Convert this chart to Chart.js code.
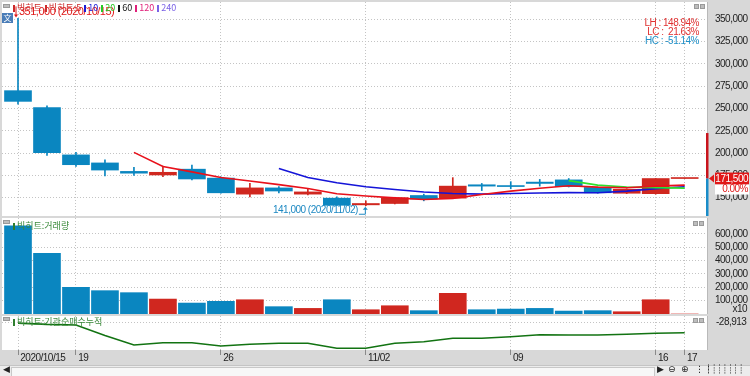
<!DOCTYPE html>
<html>
<head>
<meta charset="utf-8">
<script src="https://cdn.jsdelivr.net/npm/chart.js@4.4.1/dist/chart.umd.min.js"></script>
<style>
  body { margin: 0; width: 750px; height: 376px; background: #d8d8d8; overflow: hidden; position: relative; }
  .pane { position: absolute; left: 0; width: 750px; }
  #p1 { top: 2px; height: 214px; }
  #p2 { top: 218px; height: 96px; }
  #p3 { top: 316px; height: 49px; }
  .lbl { position: absolute; font-family: 'Noto Sans CJK KR', sans-serif; font-size: 9px; line-height: 10px; white-space: nowrap; }
  .lbl i { display: inline-block; width: 2px; height: 7px; margin: 0 2px 0 1px; vertical-align: -1px; }
  .btn { position: absolute; background: #bdbdbd; border: 1px solid #9a9a9a; box-sizing: border-box; }
  #han { position: absolute; left: 2px; top: 13px; width: 11px; height: 10px; background: #4a7db8; color: #fff; font: 8px/10px 'Noto Sans CJK SC', sans-serif; text-align: center; }
  #scroll { position: absolute; left: 0; top: 365px; width: 750px; height: 11px; background: #ececec; border-top: 1px solid #c4c4c4; box-sizing: border-box; }
  #track { position: absolute; left: 11px; top: 1px; width: 642px; height: 8px; background: #f7f7f7; border: 1px solid #c8c8c8; }
  .ic { position: absolute; top: -2px; font: 9px/11px 'DejaVu Sans', sans-serif; color: #222; }
</style>
</head>
<body>
<div class="pane" id="p1"><canvas id="c1"></canvas></div>
<div class="pane" id="p2"><canvas id="c2"></canvas></div>
<div class="pane" id="p3"><canvas id="c3"></canvas></div>

<div class="btn" style="left:3px;top:4px;width:7px;height:4px"></div>
<div class="btn" style="left:3px;top:220px;width:7px;height:4px"></div>
<div class="btn" style="left:3px;top:317px;width:7px;height:4px"></div>
<div class="btn" style="left:694px;top:4px;width:5px;height:5px"></div>
<div class="btn" style="left:700px;top:4px;width:5px;height:5px"></div>
<div class="btn" style="left:693px;top:221px;width:5px;height:5px"></div>
<div class="btn" style="left:699px;top:221px;width:5px;height:5px"></div>
<div class="btn" style="left:693px;top:318px;width:5px;height:5px"></div>
<div class="btn" style="left:699px;top:318px;width:5px;height:5px"></div>
<div id="han">文</div>
<div class="lbl" id="legend" style="left:12px;top:3px"></div>
<div class="lbl" style="left:12px;top:221px;color:#3b8a3b"><i style="background:#2e7d2e"></i>빅히트:거래량</div>
<div class="lbl" style="left:12px;top:317px;color:#3b8a3b"><i style="background:#2e7d2e"></i>빅히트:기관순매수누적</div>

<div id="scroll">
  <span class="ic" style="left:3px">&#9664;</span>
  <div id="track"></div>
  <span class="ic" style="left:657px">&#9654;</span>
  <span class="ic" style="left:668px">&#8854;</span>
  <span class="ic" style="left:681px">&#8853;</span>
  <span class="ic" style="left:695px">&#8942;&#8942;</span>
  <span class="ic" style="left:706px;color:#555">&#9482;&#9482;&#9482;&#9482;&#9482;&#9482;&#9482;</span>
</div>

<script>
const days = ['2020/10/15', '2020/10/16', '2020/10/19', '2020/10/20', '2020/10/21', '2020/10/22', '2020/10/23',
  '2020/10/26', '2020/10/27', '2020/10/28', '2020/10/29', '2020/10/30', '2020/11/02', '2020/11/03',
  '2020/11/04', '2020/11/05', '2020/11/06', '2020/11/09', '2020/11/10', '2020/11/11', '2020/11/12',
  '2020/11/13', '2020/11/16', '2020/11/17'];

const open  = [270000, 251000, 198000, 189000, 179500, 175500, 182000, 172000, 154000, 161000, 154000, 149500,
  142000, 143500, 152500, 149500, 164500, 163500, 167500, 170000, 161500, 155000, 154500, 171500];
const high  = [351000, 253000, 201000, 192500, 184000, 185500, 186500, 173500, 166000, 162500, 160500, 151000,
  146500, 150500, 154000, 172500, 166000, 168000, 170500, 171500, 162000, 160000, 171500, 171500];
const low   = [255000, 197500, 185000, 174500, 175000, 173500, 170000, 155000, 151000, 155500, 153000, 141500,
  141000, 143000, 146500, 149000, 158000, 160000, 163000, 162000, 155000, 154500, 154000, 171500];
const close = [258000, 200500, 187000, 181000, 177500, 178500, 171000, 155500, 161000, 157500, 156500, 141500,
  143500, 150000, 148500, 163000, 163000, 162500, 166000, 162500, 155500, 159500, 171500, 171500];

// moving averages
const ma5  = [null, null, null, null, 200800, 184900, 179000, 172700, 168700, 164700, 160300, 154400,
  152000, 149800, 148000, 149300, 153600, 157400, 160600, 163400, 161900, 161200, 163000, 164100];
const ma10 = [null, null, null, null, null, null, null, null, null, 182750, 172600, 166700,
  162350, 159250, 156350, 154800, 154000, 154700, 155200, 155700, 155600, 157400, 160200, 162350];
const ma20 = [null, null, null, null, null, null, null, null, null, null, null, null,
  null, null, null, null, null, null, null, 169200, 164100, 162000, 161300, 160800];

// volume (x10 shares)
const volume = [662000, 455000, 200000, 175000, 160000, 112000, 82000, 95000, 107000, 55000, 42000, 107000,
  32000, 62000, 25000, 155000, 32000, 37000, 42000, 22000, 25000, 17000, 107000, 0];

// institutional net buying, cumulative
const instCum = [-29700, -31000, -31600, -42000, -51600, -49300, -49300, -52600, -50800, -49900, -49900, -54900,
  -54900, -49900, -48300, -44900, -44900, -43300, -41300, -41600, -41600, -40900, -39900, -39300];

const xTickIdx = [0, 2, 7, 12, 17, 22, 23];
const xTickLabels = ['2020/10/15', '19', '26', '11/02', '09', '16', '17'];
const priceTicks = [150000, 175000, 200000, 225000, 250000, 275000, 300000, 325000, 350000];
const volumeTicks = [100000, 200000, 300000, 400000, 500000, 600000];
const instTicks = [-28913];
const upperLimit = 222500;

const legendNames = ['빅히트', '빅히트:5', '10', '20', '60', '120', '240'];
const legendColors = ['#cc2a2a', '#cc2a2a', '#1b1bd6', '#25c825', '#111111', '#e0207a', '#7a62e6'];

const RED = '#d0271f';
const BLUE = '#0a86c0';
const FONT = "'Liberation Sans', Arial, sans-serif";
const tickFont = { family: FONT, size: 10 };
const fmt = v => Number(v).toLocaleString('en-US');
const idx = days.map((d, i) => i);
const candleColor = idx.map(i => close[i] >= open[i] ? RED : BLUE);

document.getElementById('legend').innerHTML = legendNames
  .map((n, i) => `<i style="background:${legendColors[i]}"></i><span style="color:${legendColors[i]};margin-right:2px">${n}</span>`)
  .join('');

function xScale(showLabels) {
  return {
    type: 'linear', min: -0.552, max: 23.77, offset: false,
    afterBuildTicks: s => { s.ticks = xTickIdx.map(v => ({ value: v })); },
    afterFit: s => { s.height = showLabels ? 15 : 0; s.paddingLeft = 0; s.paddingRight = 0; },
    grid: { offset: false, color: '#c4c4c4', drawTicks: showLabels, tickLength: 5, tickColor: '#8a8a8a' },
    border: { display: false, dash: [1, 2] },
    ticks: {
      display: showLabels, align: 'start', padding: -3, color: '#222', font: tickFont,
      maxRotation: 0, autoSkip: false, callback: (v, i) => ' ' + xTickLabels[i]
    }
  };
}

function yScale(min, max, ticks, pad) {
  return {
    position: 'right', min: min, max: max,
    afterBuildTicks: s => { s.ticks = ticks.map(v => ({ value: v })); },
    afterFit: s => { s.width = 43; s.paddingTop = 0; s.paddingBottom = 0; },
    grid: { color: '#c4c4c4', drawTicks: false },
    border: { display: false, dash: [1, 2] },
    ticks: { crossAlign: 'near', padding: pad, color: '#222', font: tickFont, callback: v => fmt(v) }
  };
}

function baseOptions(y, showX) {
  return {
    responsive: true, maintainAspectRatio: false, animation: false, events: [],
    layout: { padding: { left: 2, right: 0, top: 0, bottom: 0 } },
    plugins: { legend: { display: false }, tooltip: { enabled: false } },
    scales: { x: xScale(showX), y: y }
  };
}

// the terminal font is narrow, tighten the canvas text a little
const narrow = {
  id: 'narrow',
  beforeLayout(chart) { chart.ctx.letterSpacing = '-0.5px'; },
  beforeDraw(chart) { chart.ctx.letterSpacing = '-0.5px'; }
};

const paneBg = {
  id: 'paneBg',
  beforeDraw(chart) {
    const { ctx, chartArea: a } = chart;
    ctx.save();
    ctx.fillStyle = '#ffffff';
    ctx.fillRect(a.left, a.top, a.right - a.left, a.bottom - a.top);
    ctx.fillStyle = '#b9b9b9';
    ctx.fillRect(a.right, a.top, 1, a.bottom - a.top);
    ctx.restore();
  }
};

const priceMarks = {
  id: 'priceMarks',
  afterDraw(chart) {
    const { ctx, chartArea: a } = chart;
    const x = chart.scales.x, y = chart.scales.y;
    const hi = Math.max(...high), hiI = high.indexOf(hi);
    const lo = Math.min(...low), loI = low.indexOf(lo);
    const last = close[close.length - 1], prev = close[close.length - 2];
    ctx.save();
    ctx.textBaseline = 'middle';

    // highest price marker
    let px = x.getPixelForValue(hiI), py = y.getPixelForValue(hi);
    ctx.strokeStyle = ctx.fillStyle = '#e01818';
    ctx.lineWidth = 1;
    ctx.beginPath(); ctx.moveTo(px - 2, py - 12); ctx.lineTo(px - 2, py - 3); ctx.stroke();
    ctx.beginPath(); ctx.moveTo(px - 4, py - 4); ctx.lineTo(px, py - 4); ctx.lineTo(px - 2, py - 1); ctx.fill();
    ctx.font = '11px ' + FONT;
    ctx.textAlign = 'left';
    ctx.fillText(fmt(hi) + ' (' + days[hiI] + ')', px + 1, py - 6);

    // lowest price marker
    px = x.getPixelForValue(loI); py = y.getPixelForValue(lo);
    ctx.strokeStyle = ctx.fillStyle = '#1c88c2';
    ctx.beginPath(); ctx.moveTo(px - 7, py + 8.5); ctx.lineTo(px - 0.5, py + 8.5); ctx.lineTo(px - 0.5, py + 3); ctx.stroke();
    ctx.beginPath(); ctx.moveTo(px - 3, py + 4); ctx.lineTo(px + 2, py + 4); ctx.lineTo(px - 0.5, py + 1); ctx.fill();
    ctx.font = '10px ' + FONT;
    ctx.textAlign = 'right';
    ctx.fillText(fmt(lo) + ' (' + days[loI] + ')', px - 8, py + 5);

    // range ratios
    const pct = v => (v * 100).toFixed(2) + '%';
    ctx.fillStyle = '#e03030';
    ctx.fillText('LH : ' + pct(hi / lo - 1), a.right - 8, a.top + 21);
    ctx.fillText('LC :  ' + pct(last / lo - 1), a.right - 8, a.top + 30);
    ctx.fillStyle = '#2090c8';
    ctx.fillText('HC : ' + pct(last / hi - 1), a.right - 8, a.top + 39);

    // price limit bar on the axis edge
    const cy = y.getPixelForValue(last);
    const uy = y.getPixelForValue(upperLimit);
    ctx.fillStyle = '#c8141c';
    ctx.fillRect(a.right - 1, uy, 2.5, cy - uy);
    ctx.fillStyle = '#1a8cc8';
    ctx.fillRect(a.right - 1, cy, 2.5, a.bottom - cy);

    // current price box
    ctx.fillStyle = '#e01818';
    ctx.beginPath(); ctx.moveTo(a.right + 2, cy); ctx.lineTo(a.right + 7, cy - 4); ctx.lineTo(a.right + 7, cy + 4); ctx.fill();
    ctx.fillRect(a.right + 8, cy - 6, 34, 12);
    ctx.fillStyle = '#ffffff';
    ctx.fillRect(a.right + 8, cy + 6, 34, 10);
    ctx.textAlign = 'right';
    ctx.fillText(fmt(last), 748, cy + 0.5);
    ctx.fillStyle = '#e01818';
    ctx.fillText(pct(last / prev - 1), 748, cy + 11);
    ctx.restore();
  }
};

const unitMark = {
  id: 'unitMark',
  afterDraw(chart) {
    const { ctx, chartArea: a } = chart;
    ctx.save();
    ctx.font = '10px ' + FONT;
    ctx.fillStyle = '#222';
    ctx.textAlign = 'right';
    ctx.textBaseline = 'middle';
    ctx.fillText('x10', 747, a.bottom - 5);
    ctx.restore();
  }
};

new Chart(document.getElementById('c1'), {
  type: 'bar',
  data: {
    datasets: [
      { type: 'line', label: '5', data: idx.map(i => ({ x: i, y: ma5[i] })), borderColor: '#e8101a',
        borderWidth: 1.6, pointRadius: 0, tension: 0, order: 1 },
      { type: 'line', label: '20', data: idx.map(i => ({ x: i, y: ma20[i] })), borderColor: '#2ee02e',
        borderWidth: 1.6, pointRadius: 0, tension: 0, order: 2 },
      { type: 'line', label: '10', data: idx.map(i => ({ x: i, y: ma10[i] })), borderColor: '#1414d8',
        borderWidth: 1.6, pointRadius: 0, tension: 0, order: 3 },
      { label: 'body', data: idx.map(i => ({ x: i, y: [open[i], close[i]] })), backgroundColor: candleColor,
        barThickness: 27, minBarLength: 1, grouped: false, order: 4 },
      { label: 'wick', data: idx.map(i => ({ x: i, y: [low[i], high[i]] })), backgroundColor: candleColor,
        barThickness: 1, grouped: false, order: 5 }
    ]
  },
  options: baseOptions(yScale(129500, 369400, priceTicks, 8), false),
  plugins: [narrow, paneBg, priceMarks]
});

new Chart(document.getElementById('c2'), {
  type: 'bar',
  data: {
    datasets: [
      { label: '거래량', data: idx.map(i => ({ x: i, y: volume[i] })), backgroundColor: candleColor,
        barThickness: 27, grouped: false }
    ]
  },
  options: baseOptions(yScale(0, 720000, volumeTicks, 8), false),
  plugins: [narrow, paneBg, unitMark]
});

new Chart(document.getElementById('c3'), {
  type: 'line',
  data: {
    datasets: [
      { label: '기관순매수누적', data: idx.map(i => ({ x: i, y: instCum[i] })), borderColor: '#127312',
        borderWidth: 1.6, pointRadius: 0, tension: 0 }
    ]
  },
  options: baseOptions(yScale(-56613, -22613, instTicks, 9), true),
  plugins: [narrow, paneBg]
});
</script>
</body>
</html>
